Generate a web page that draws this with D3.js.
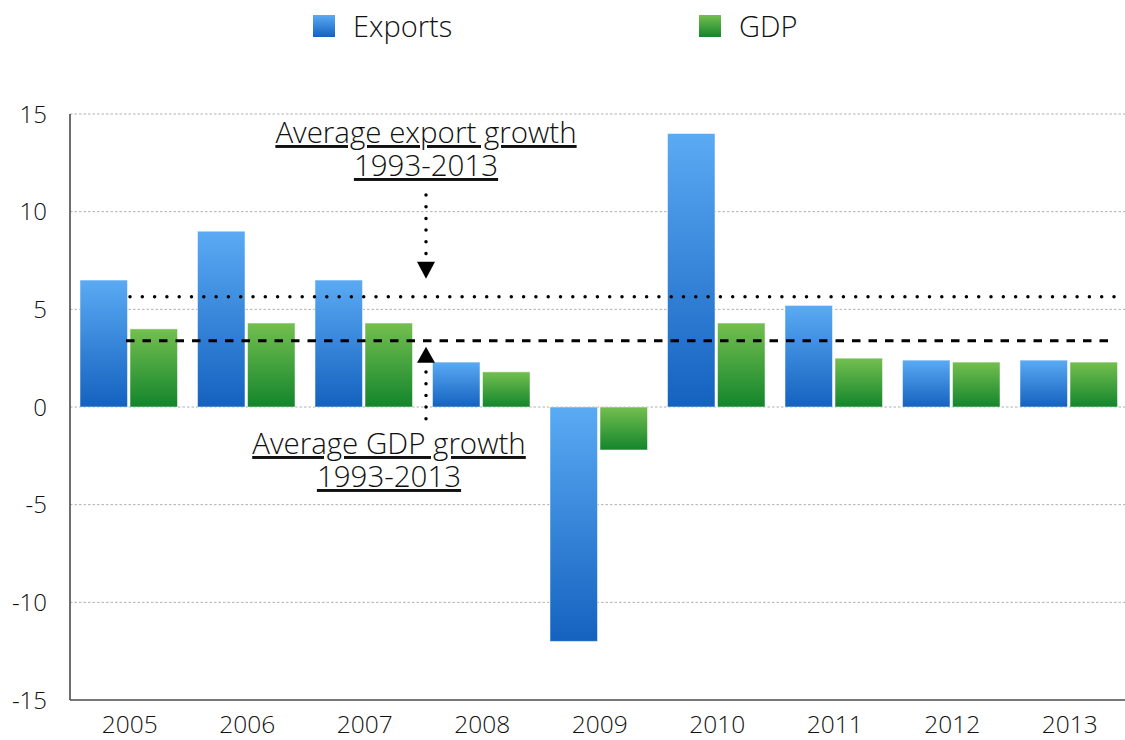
<!DOCTYPE html>
<meta charset="utf-8">
<style>
    body { margin: 0; background: #fff; }
    text { font-family: "Open Sans", "Liberation Sans", sans-serif; font-weight: 300; fill: #111; }
</style>
<svg width="1125" height="740"></svg>
<script src="https://cdn.jsdelivr.net/npm/d3@7"></script>
<script>
    var years = ["2005", "2006", "2007", "2008", "2009", "2010", "2011", "2012", "2013"];
    var series = ["Exports", "GDP"];
    var exportsGrowth = [6.5, 9.0, 6.5, 2.3, -12.0, 14.0, 5.2, 2.4, 2.4];
    var gdpGrowth = [4.0, 4.3, 4.3, 1.8, -2.2, 4.3, 2.5, 2.3, 2.3];
    var yTicks = [-15, -10, -5, 0, 5, 10, 15];
    var avgExport = 5.65;   // average export growth 1993-2013
    var avgGdp = 3.39;      // average GDP growth 1993-2013

    var svg = d3.select("svg");
    var margin = { left: 70, right: 1127.5, top: 114, bottom: 700 };

    var x0 = d3.scaleBand().domain(years).range([margin.left, margin.right])
        .paddingInner(0.17).paddingOuter(0.085);
    var x1 = d3.scaleBand().domain(series).range([0, x0.bandwidth()]).paddingInner(0.05);
    var y = d3.scaleLinear().domain([-15, 15]).range([margin.bottom, margin.top]);

    var defs = svg.append("defs");
    var grads = [
        { id: "g-exp", top: "#5aaaf4", bot: "#1462bf" },
        { id: "g-gdp", top: "#74bf4f", bot: "#13852c" }
    ];
    grads.forEach(function (g) {
        var lg = defs.append("linearGradient").attr("id", g.id)
            .attr("x1", 0).attr("y1", 0).attr("x2", 0).attr("y2", 1);
        lg.append("stop").attr("offset", "0%").attr("stop-color", g.top);
        lg.append("stop").attr("offset", "100%").attr("stop-color", g.bot);
    });

    // grid lines
    svg.append("g").selectAll("line")
        .data(yTicks.filter(function (d) { return d !== -15; }))
        .enter().append("line")
        .attr("x1", margin.left).attr("x2", 1125)
        .attr("y1", function (d) { return y(d); })
        .attr("y2", function (d) { return y(d); })
        .attr("stroke", "#b0b0b0").attr("stroke-width", 1)
        .attr("stroke-dasharray", "2.5,2");

    // y labels
    svg.append("g").selectAll("text")
        .data(yTicks).enter().append("text")
        .attr("x", 47).attr("y", function (d) { return y(d) + 8.5; })
        .attr("text-anchor", "end").attr("font-size", 24)
        .text(function (d) { return d; });

    // x labels
    svg.append("g").selectAll("text")
        .data(years).enter().append("text")
        .attr("x", function (d) { return x0(d) + x0.bandwidth() / 2 + 1; })
        .attr("y", 733).attr("text-anchor", "middle").attr("font-size", 24.5)
        .text(function (d) { return d; });

    // bars
    var rows = years.map(function (yr, i) {
        return { year: yr, vals: [
            { key: "Exports", v: exportsGrowth[i], fill: "url(#g-exp)" },
            { key: "GDP", v: gdpGrowth[i], fill: "url(#g-gdp)" }
        ] };
    });
    svg.append("g").selectAll("g").data(rows).enter().append("g")
        .attr("transform", function (d) { return "translate(" + x0(d.year) + ",0)"; })
        .selectAll("rect").data(function (d) { return d.vals; }).enter().append("rect")
        .attr("x", function (d) { return x1(d.key); })
        .attr("width", x1.bandwidth())
        .attr("y", function (d) { return y(Math.max(0, d.v)); })
        .attr("height", function (d) { return Math.abs(y(d.v) - y(0)); })
        .attr("fill", function (d) { return d.fill; })
        .attr("stroke", "rgba(255,255,255,0.5)").attr("stroke-width", 1);

    // axes
    svg.append("line").attr("x1", margin.left).attr("x2", margin.left)
        .attr("y1", margin.top).attr("y2", margin.bottom)
        .attr("stroke", "#4a4a4a").attr("stroke-width", 1.6);
    svg.append("line").attr("x1", margin.left).attr("x2", 1125)
        .attr("y1", margin.bottom).attr("y2", margin.bottom)
        .attr("stroke", "#4a4a4a").attr("stroke-width", 1.6);

    // average lines
    svg.append("line")
        .attr("x1", 130).attr("x2", 1115)
        .attr("y1", y(avgExport)).attr("y2", y(avgExport))
        .attr("stroke", "#000").attr("stroke-width", 3.5)
        .attr("stroke-linecap", "round").attr("stroke-dasharray", "0,12.3");
    svg.append("line")
        .attr("x1", 126).attr("x2", 1108)
        .attr("y1", y(avgGdp)).attr("y2", y(avgGdp))
        .attr("stroke", "#000").attr("stroke-width", 3)
        .attr("stroke-dasharray", "8.5,8");

    // annotations
    var ax = 426;
    function dots(y1, y2) {
        svg.append("line").attr("x1", ax).attr("x2", ax).attr("y1", y1).attr("y2", y2)
            .attr("stroke", "#000").attr("stroke-width", 3.5)
            .attr("stroke-linecap", "round").attr("stroke-dasharray", "0,11.7");
    }
    dots(195, 255);
    svg.append("path")
        .attr("d", d3.line()([[ax - 9, y(avgExport) - 35], [ax + 9, y(avgExport) - 35], [ax, y(avgExport) - 18]]) + "Z")
        .attr("fill", "#000");
    svg.append("path")
        .attr("d", d3.line()([[ax - 9, y(avgGdp) + 22], [ax + 9, y(avgGdp) + 22], [ax, y(avgGdp) + 6]]) + "Z")
        .attr("fill", "#000");
    dots(372, 419);

    function label(lines, cx, y0) {
        lines.forEach(function (t, i) {
            svg.append("text").attr("x", cx).attr("y", y0 + i * 33)
                .attr("text-anchor", "middle").attr("font-size", 29.5)
                .attr("text-decoration", "underline").text(t);
        });
    }
    label(["Average export growth", "1993-2013"], 426, 143);
    label(["Average GDP growth", "1993-2013"], 389, 454);

    // legend
    var legend = [
        { name: "Exports", fill: "url(#g-exp)", x: 313 },
        { name: "GDP", fill: "url(#g-gdp)", x: 699 }
    ];
    var lg = svg.append("g").selectAll("g").data(legend).enter().append("g");
    lg.append("rect").attr("x", function (d) { return d.x; }).attr("y", 15)
        .attr("width", 22).attr("height", 22).attr("fill", function (d) { return d.fill; });
    lg.append("text").attr("x", function (d) { return d.x + 40; }).attr("y", 37)
        .attr("font-size", 29).text(function (d) { return d.name; });
</script>
